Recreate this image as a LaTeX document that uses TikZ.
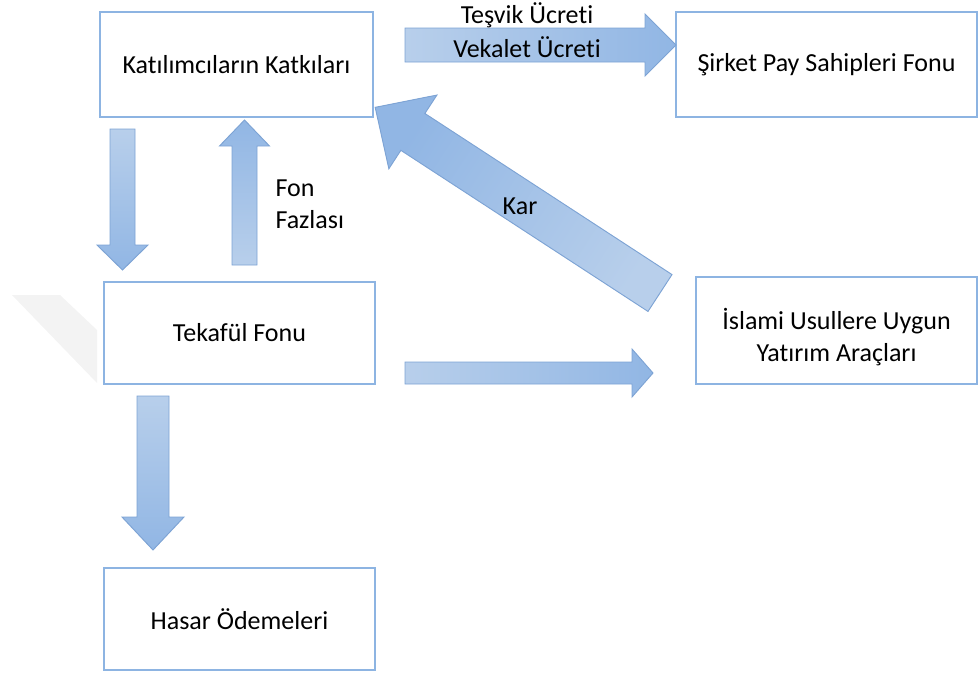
\documentclass[tikz,border=0pt]{standalone}
\usepackage{fontspec}
\setmainfont{Carlito}[Ligatures=NoCommon]
\usetikzlibrary{calc}

\definecolor{boxline}{RGB}{141,180,226}
\definecolor{arrlight}{RGB}{184,207,235}
\definecolor{arrdark}{RGB}{145,182,228}
\definecolor{arrline}{RGB}{125,163,212}
\definecolor{ghost}{RGB}{243,243,243}

\tikzset{every picture/.style={line width=0.75pt}}
\tikzset{
  fonbox/.style={draw=boxline, line width=1.2pt, fill=white, align=center, inner sep=0pt,
    font=\fontsize{19.5}{24}\selectfont},
  blockarr/.style={draw=arrline, line width=0.7pt, shading=axis, top color=arrdark, bottom color=arrlight},
  lbl/.style={font=\fontsize{19.5}{24}\selectfont, inner sep=0pt, align=center}
}

% tail, direction (deg), length, shaft half width, head half width, head length
\newcommand{\blockarrow}[6]{%
  \pgfmathsetmacro{\shadeang}{#2-90}
  \begin{scope}[shift={#1},rotate={-#2}]
    \draw[blockarr,shading angle=\shadeang] (0,-#4) -- ({#3-#6},-#4) -- ({#3-#6},-#5) -- (#3,0) -- ({#3-#6},#5) -- ({#3-#6},#4) -- (0,#4) -- cycle;
  \end{scope}}

\begin{document}
\begin{tikzpicture}[x=0.75pt,y=0.75pt,yscale=-1,xscale=1]
		\useasboundingbox (0,0) rectangle (979,675);
		
		%faint mark on the left
		\fill[ghost] (12,295) -- (60,295) -- (97,330) -- (97,383) -- cycle;
		
		%Boxes
		\node[fonbox, minimum width=273*0.75pt, minimum height=105*0.75pt] (katki) at (236.5,64.5) {Katılımcıların Katkıları};
		\node[fonbox, minimum width=301*0.75pt, minimum height=105*0.75pt] (sirket) at (826.5,64.5) {Şirket Pay Sahipleri Fonu};
		\node[fonbox, minimum width=271*0.75pt, minimum height=102*0.75pt] (tekaful) at (239.5,333) {Tekafül Fonu};
		\node[fonbox, minimum width=281*0.75pt, minimum height=107*0.75pt] (yatirim) at (836.5,330.5) {};
		\node[lbl] (yatirimtxt) at (836.5,337) {İslami Usullere Uygun\\Yatırım Araçları};
		\node[fonbox, minimum width=271*0.75pt, minimum height=102*0.75pt] (hasar) at (239.5,619) {Hasar Ödemeleri};
		
		%Arrow ends
		\coordinate (ucretT) at (405,45);
		\coordinate (inisT) at (122.5,129);
		\coordinate (fazlaT) at (244.5,265);
		\coordinate (karT) at (660,293);
		\coordinate (yatirimT) at (405,373);
		\coordinate (hasarT) at (153,396);
		
		%Block arrows
		\blockarrow{(ucretT)}{0}{271}{17}{31}{31}
		\blockarrow{(inisT)}{-90}{141}{12.5}{25.5}{25}
		\blockarrow{(fazlaT)}{90}{145}{12.5}{25}{26}
		\blockarrow{(karT)}{146.9}{340}{22}{44}{45}
		\blockarrow{(yatirimT)}{0}{248}{11}{24}{21}
		\blockarrow{(hasarT)}{-90}{154}{16}{31}{33}
		
		% Text Nodes
		\node[lbl] (tesvik) at (527,15) {Teşvik Ücreti};
		\node[lbl] (vekalet) at (527,47) {Vekalet Ücreti};
		\node[lbl, anchor=west] (fon) at (275,188) {Fon};
		\node[lbl, anchor=west] (fazla) at (275,220) {Fazlası};
		\node[lbl] (kar) at (520,206) {Kar};
\end{tikzpicture}
\end{document}
